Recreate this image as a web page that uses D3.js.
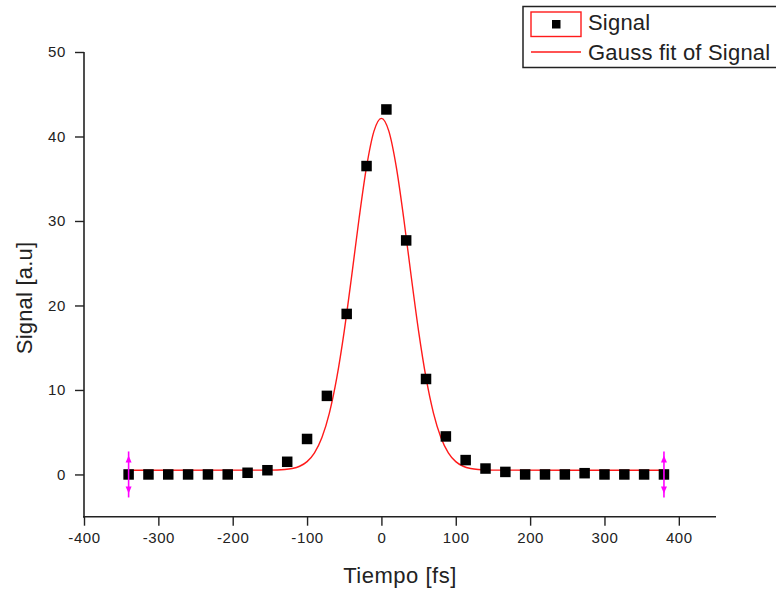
<!DOCTYPE html>
<html>
<head>
<meta charset="utf-8">
<script src="https://d3js.org/d3.v7.min.js"></script>
<style>
  body { margin: 0; background: #fff; }
  svg { display: block; font-family: "Liberation Sans", Arial, sans-serif; }
</style>
</head>
<body>
<svg id="chart" width="776" height="593"></svg>
<script>
// measured signal (time delay in fs, signal in a.u.)
var tiempo = [-340, -313.3, -286.7, -260, -233.3, -206.7, -180, -153.3, -126.7, -100,
  -73.3, -46.7, -20, 6.7, 33.3, 60, 86.7, 113.3, 140, 166.7,
  193.3, 220, 246.7, 273.3, 300, 326.7, 353.3, 380];
var signal = [0, 0, 0, 0, 0, 0, 0.2, 0.5, 1.5, 4.2,
  9.3, 19, 36.5, 43.2, 27.7, 11.3, 4.5, 1.7, 0.7, 0.3,
  0, 0, 0, 0.15, 0, 0, 0, 0];

// Gauss fit curve
var fitX = [-340, -150, -130, -120, -110, -100, -90, -80, -70, -60, -50, -40, -30, -20, -10, 0,
  10, 20, 30, 40, 50, 60, 70, 80, 90, 100, 110, 120, 130, 150, 380];
var fitY = [0.5, 0.51, 0.58, 0.7, 0.97, 1.52, 2.56, 4.37, 7.26, 11.45, 16.97, 23.49, 30.32, 36.4, 40.63, 42.15,
  40.63, 36.4, 30.32, 23.49, 16.97, 11.45, 7.26, 4.37, 2.56, 1.52, 0.97, 0.7, 0.58, 0.51, 0.5];

var xMajor = [-400, -300, -200, -100, 0, 100, 200, 300, 400];
var xMinor = [-350, -250, -150, -50, 50, 150, 250, 350, 450];
var yMajor = [0, 10, 20, 30, 40, 50];
var yMinor = [-5, 5, 15, 25, 35, 45];

// data-range markers at first and last point
var rangeEnds = [-340, 380];

var legendItems = ["Signal", "Gauss fit of Signal"];

var svg = d3.select("#chart");
var ink = "#222";

var x = d3.scaleLinear().domain([-400, 450]).range([84, 716]);
var y = d3.scaleLinear().domain([-5, 50]).range([516.7, 52]);

// plain hyphen for negatives, like the original
var fmt = function(d) { return String(d); };

// axes (major ticks with labels, minor ticks without)
function drawXAxis() {
  var g = svg.append("g").attr("transform", "translate(0," + y(-5) + ")");
  g.call(d3.axisBottom(x).tickValues(xMinor).tickSize(5).tickFormat(""));
  g.call(d3.axisBottom(x).tickValues(xMajor).tickSize(9).tickPadding(7).tickFormat(fmt));
  g.selectAll(".domain").remove();
  g.append("line").attr("x1", x(-400) - 1).attr("x2", x(450)).attr("stroke", ink).attr("stroke-width", 1.6);
  g.selectAll(".tick line").attr("stroke", ink).attr("stroke-width", 1.4);
  g.selectAll(".tick text").attr("fill", ink).style("font-size", "15px").style("letter-spacing", "0.6px");
}
function drawYAxis() {
  var g = svg.append("g").attr("transform", "translate(" + x(-400) + ",0)");
  g.call(d3.axisLeft(y).tickValues(yMinor).tickSize(5).tickFormat(""));
  g.call(d3.axisLeft(y).tickValues(yMajor).tickSize(9).tickPadding(9).tickFormat(fmt));
  g.selectAll(".domain").remove();
  g.append("line").attr("y1", y(50)).attr("y2", y(-5) + 1).attr("stroke", ink).attr("stroke-width", 1.6);
  g.selectAll(".tick line").attr("stroke", ink).attr("stroke-width", 1.4);
  g.selectAll(".tick text").attr("fill", ink).style("font-size", "15px").style("letter-spacing", "0.6px");
}
drawXAxis();
drawYAxis();

// axis titles
svg.append("text")
  .attr("x", 400).attr("y", 583)
  .attr("text-anchor", "middle")
  .attr("fill", ink)
  .style("font-size", "22px")
  .style("letter-spacing", "0.5px")
  .text("Tiempo [fs]");
svg.append("text")
  .attr("transform", "translate(32,298) rotate(-90)")
  .attr("text-anchor", "middle")
  .attr("fill", ink)
  .style("font-size", "22px")
  .style("letter-spacing", "0.2px")
  .text("Signal [a.u]");

// fit curve
var fitLine = d3.line()
  .x(function(d) { return x(d[0]); })
  .y(function(d) { return y(d[1]); })
  .curve(d3.curveMonotoneX);
svg.append("path")
  .datum(d3.zip(fitX, fitY))
  .attr("d", fitLine)
  .attr("fill", "none")
  .attr("stroke", "#ff1a1a")
  .attr("stroke-width", 1.4);

// data squares
var sq = 10.5;
svg.selectAll(".pt")
  .data(d3.zip(tiempo, signal))
  .enter().append("rect")
  .attr("class", "pt")
  .attr("x", function(d) { return x(d[0]) - sq / 2; })
  .attr("y", function(d) { return y(d[1]) - sq / 2; })
  .attr("width", sq)
  .attr("height", sq)
  .attr("fill", "#000");

// magenta range markers
var mag = "#ff00ff";
rangeEnds.forEach(function(v) {
  var cx = x(v), cy = y(0);
  var g = svg.append("g");
  g.append("line")
    .attr("x1", cx).attr("x2", cx)
    .attr("y1", cy - 23).attr("y2", cy + 23)
    .attr("stroke", mag).attr("stroke-width", 1.6);
  g.append("path")
    .attr("d", "M" + cx + "," + (cy - 19) + "L" + (cx - 3) + "," + (cy - 12) + "L" + (cx + 3) + "," + (cy - 12) + "Z")
    .attr("fill", mag);
  g.append("path")
    .attr("d", "M" + cx + "," + (cy + 19) + "L" + (cx - 3) + "," + (cy + 12) + "L" + (cx + 3) + "," + (cy + 12) + "Z")
    .attr("fill", mag);
});

// legend
var lg = svg.append("g");
lg.append("rect")
  .attr("x", 523).attr("y", 6.5)
  .attr("width", 270).attr("height", 61)
  .attr("fill", "#fff")
  .attr("stroke", ink).attr("stroke-width", 1.5);
lg.append("rect")
  .attr("x", 531).attr("y", 12)
  .attr("width", 50).attr("height", 24.5)
  .attr("fill", "none")
  .attr("stroke", "#ff1a1a").attr("stroke-width", 1.4);
lg.append("rect")
  .attr("x", 552).attr("y", 20)
  .attr("width", 8.5).attr("height", 8.5)
  .attr("fill", "#000");
lg.append("line")
  .attr("x1", 531).attr("x2", 581)
  .attr("y1", 52).attr("y2", 52)
  .attr("stroke", "#ff1a1a").attr("stroke-width", 1.4);
lg.selectAll(".lt")
  .data(legendItems)
  .enter().append("text")
  .attr("class", "lt")
  .attr("x", 588)
  .attr("y", function(d, i) { return 30 + i * 30; })
  .attr("fill", ink)
  .style("font-size", "22px")
  .style("letter-spacing", "0.2px")
  .text(function(d) { return d; });
</script>
</body>
</html>
